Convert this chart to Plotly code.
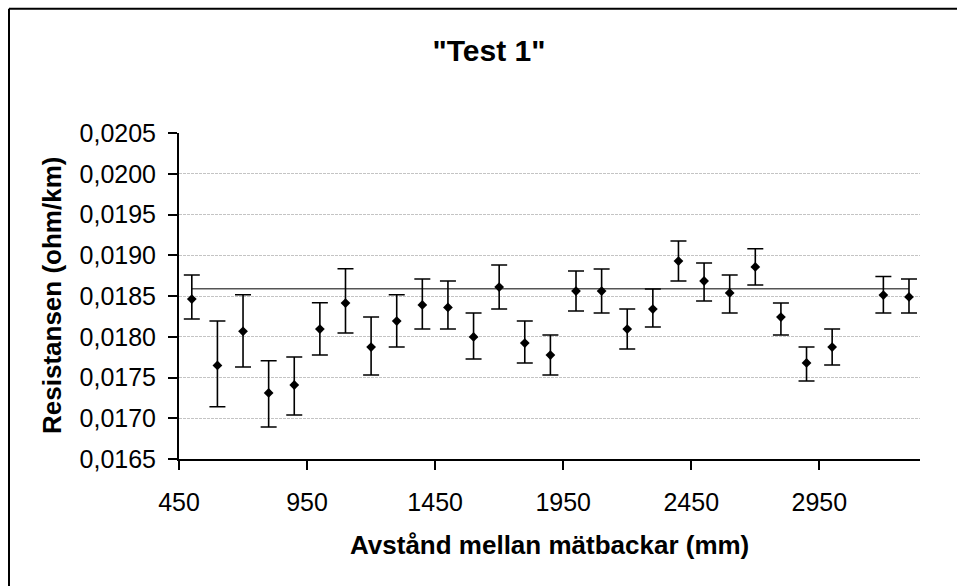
import plotly.graph_objects as go

# ---- data ----
distance_mm = [500, 600, 700, 800, 900, 1000, 1100, 1200, 1300, 1400, 1500, 1600, 1700, 1800,
               1900, 2000, 2100, 2200, 2300, 2400, 2500, 2600, 2700, 2800, 2900, 3000, 3200, 3300]
resistance = [0.018463, 0.017648, 0.018066, 0.017310, 0.017408, 0.018095, 0.018414, 0.017874,
              0.018193, 0.018390, 0.018360, 0.017997, 0.018610, 0.017923, 0.017776, 0.018561,
              0.018561, 0.018095, 0.018340, 0.018929, 0.018684, 0.018537, 0.018856, 0.018242,
              0.017678, 0.017874, 0.018512, 0.018488]
err_plus = [0.000295, 0.000545, 0.000450, 0.000396, 0.000344, 0.000323, 0.000421, 0.000368,
            0.000323, 0.000319, 0.000324, 0.000294, 0.000270, 0.000270, 0.000245, 0.000246,
            0.000270, 0.000245, 0.000246, 0.000246, 0.000221, 0.000221, 0.000224, 0.000172,
            0.000196, 0.000221, 0.000228, 0.000221]
err_minus = [0.000245, 0.000506, 0.000437, 0.000417, 0.000368, 0.000319, 0.000368, 0.000343,
             0.000319, 0.000295, 0.000265, 0.000270, 0.000270, 0.000245, 0.000245, 0.000245,
             0.000270, 0.000245, 0.000220, 0.000245, 0.000245, 0.000246, 0.000221, 0.000221,
             0.000221, 0.000221, 0.000221, 0.000197]
mean_value = 0.01859
mean_x = [500, 3300]

x_ticks = [450, 950, 1450, 1950, 2450, 2950]
y_ticks = [0.0165, 0.0170, 0.0175, 0.0180, 0.0185, 0.0190, 0.0195, 0.0200, 0.0205]
y_tick_labels = ["0,0165", "0,0170", "0,0175", "0,0180", "0,0185", "0,0190", "0,0195", "0,0200", "0,0205"]

title_text = '"Test 1"'
x_title = "Avstånd mellan mätbackar (mm)"
y_title = "Resistansen (ohm/km)"

FONT = "Liberation Sans, Arial, sans-serif"

fig = go.Figure()

fig.add_trace(go.Scatter(
    x=mean_x, y=[mean_value] * len(mean_x), mode="lines",
    line=dict(color="#555555", width=1.5), hoverinfo="skip", showlegend=False))

fig.add_trace(go.Scatter(
    x=distance_mm, y=resistance, mode="markers",
    marker=dict(symbol="diamond", size=7.5, color="black"),
    error_y=dict(type="data", symmetric=False, array=err_plus, arrayminus=err_minus,
                 color="black", thickness=1.6, width=8),
    showlegend=False))

fig.update_layout(
    width=957, height=586,
    margin=dict(l=179, r=37, t=133, b=127, pad=0),
    paper_bgcolor="white", plot_bgcolor="white",
    font=dict(family=FONT, color="black", size=25),
    title=dict(text="<b>" + title_text + "</b>", x=489 / 957, xanchor="center",
               y=1 - 50 / 586, yanchor="middle",
               font=dict(family=FONT, size=30, color="black")),
    showlegend=False,
)

fig.update_xaxes(
    range=[450, 3343], tickvals=x_ticks, ticktext=[str(v) for v in x_ticks],
    showline=True, linecolor="black", linewidth=2,
    ticks="outside", ticklen=9, tickwidth=2, tickcolor="black",
    ticklabelstandoff=11,
    showgrid=False, zeroline=False,
    tickfont=dict(family=FONT, size=25, color="black"),
)
fig.update_yaxes(
    range=[0.0165, 0.0205], tickvals=y_ticks, ticktext=y_tick_labels,
    showline=True, linecolor="black", linewidth=2,
    ticks="outside", ticklen=9, tickwidth=2, tickcolor="black",
    ticklabelstandoff=7,
    showgrid=True, gridcolor="#c4c4c4", gridwidth=1, griddash="3px,1px",
    zeroline=False,
    tickfont=dict(family=FONT, size=25, color="black"),
)

fig.add_annotation(text="<b>" + x_title + "</b>", xref="paper", yref="paper",
                   x=0.5, y=(459.3 - 545) / 326, xanchor="center", yanchor="middle",
                   showarrow=False, font=dict(family=FONT, size=26, color="black"))
fig.add_annotation(text="<b>" + y_title + "</b>", xref="paper", yref="paper",
                   x=(52 - 179) / 741, y=0.5, xanchor="center", yanchor="middle",
                   textangle=-90, showarrow=False,
                   font=dict(family=FONT, size=26, color="black"))

# chart-area border: only its left and top edges fall inside the picture
bx0 = (9 - 179) / 741
by1 = (459.3 - 9) / 326
fig.add_shape(type="line", xref="paper", yref="paper",
              x0=bx0, x1=bx0, y0=(459.3 - 600) / 326, y1=by1,
              line=dict(color="black", width=2), layer="above")
fig.add_shape(type="line", xref="paper", yref="paper",
              x0=bx0, x1=(1000 - 179) / 741, y0=by1, y1=by1,
              line=dict(color="black", width=2), layer="above")

fig.write_html("out.html", config={"displayModeBar": False},
               post_script="document.body.style.margin='0';document.body.style.overflow='hidden';")
